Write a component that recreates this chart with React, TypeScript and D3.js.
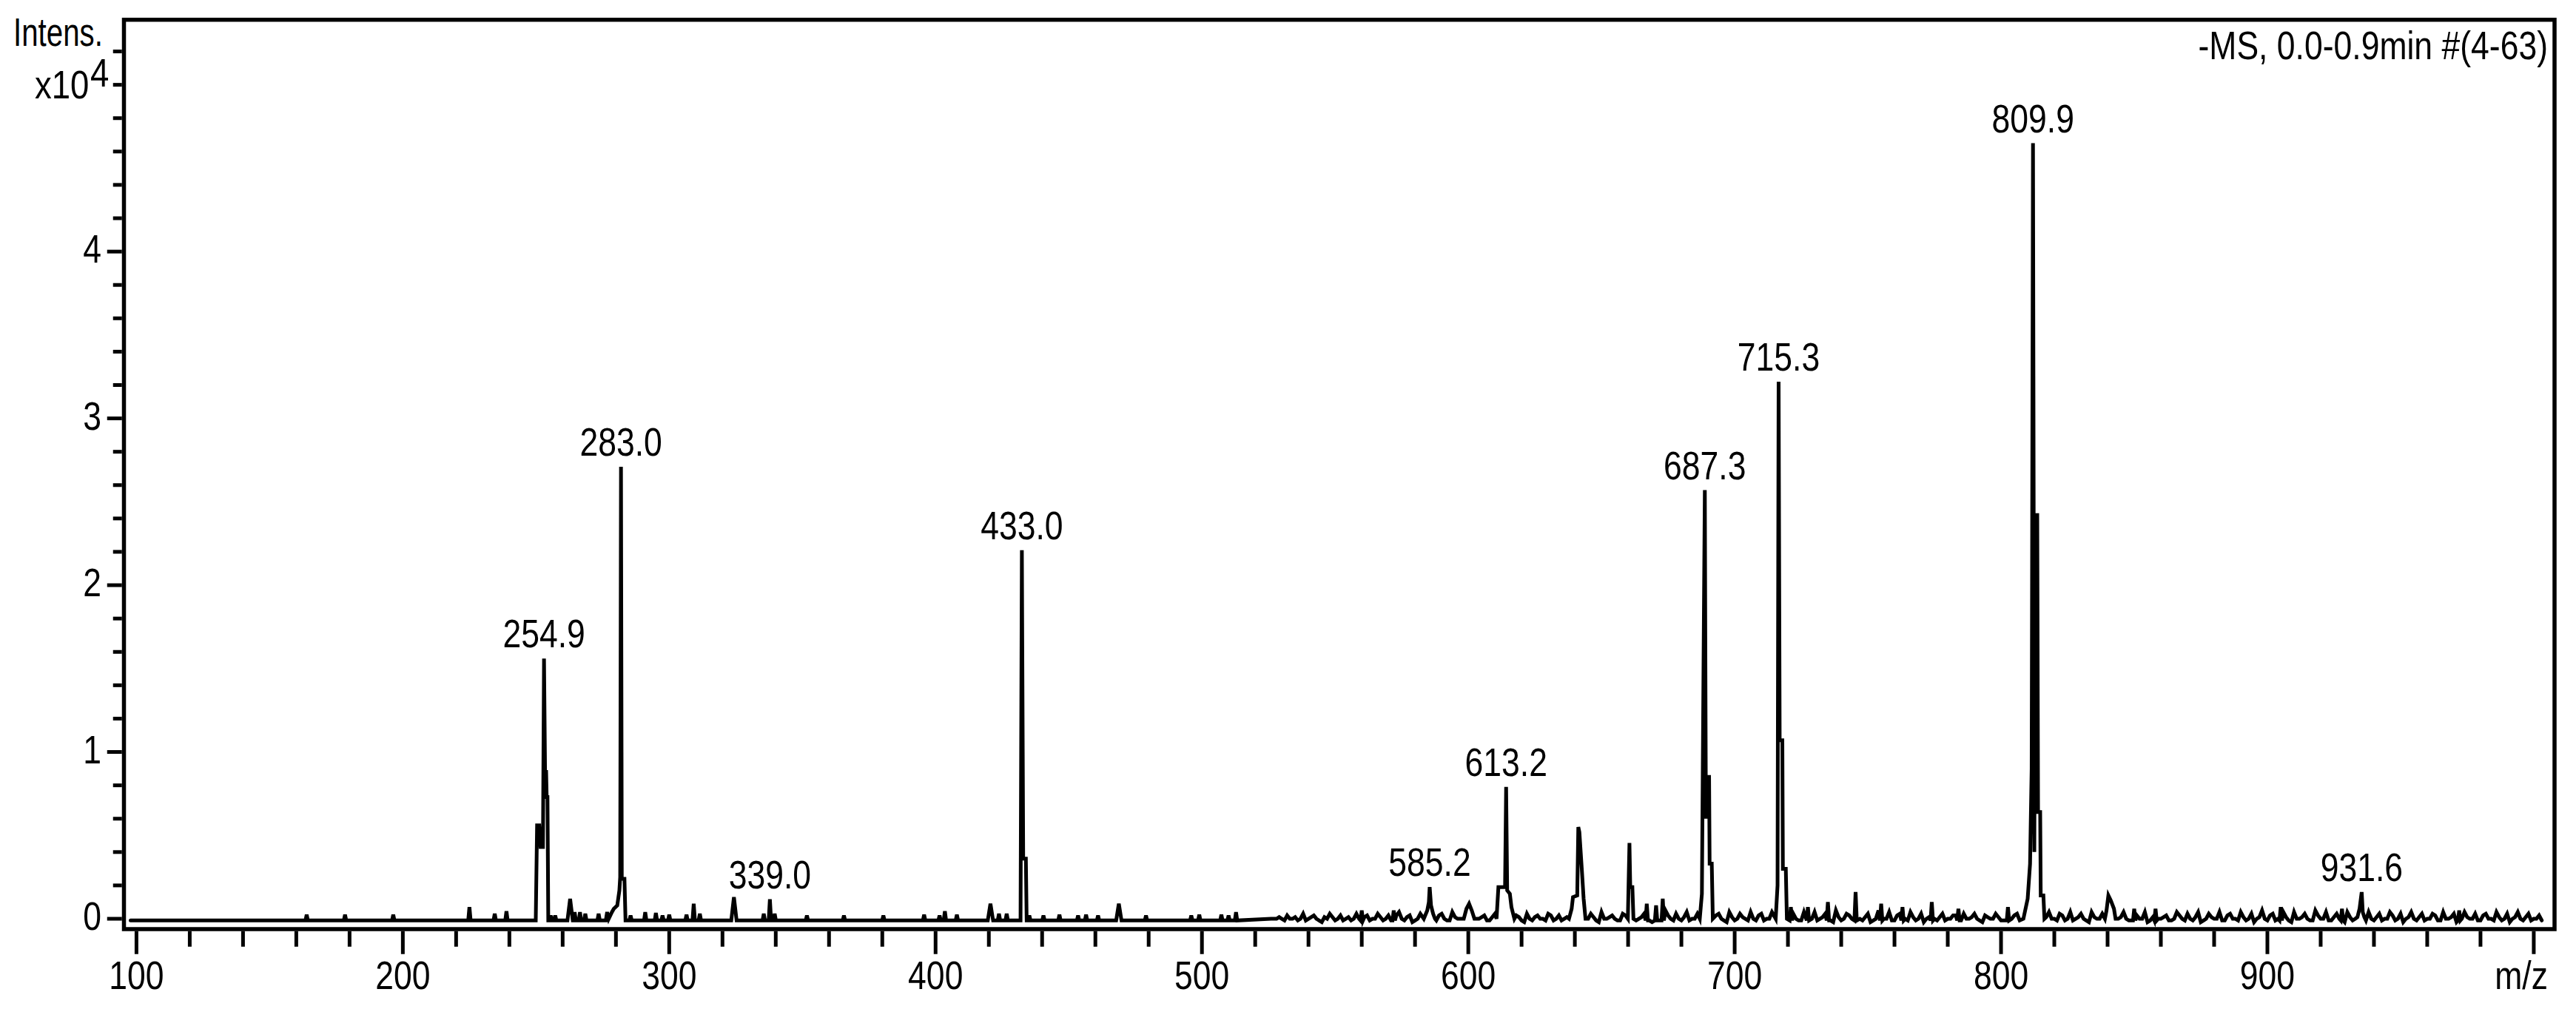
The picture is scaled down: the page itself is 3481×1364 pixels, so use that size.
import React from 'react';
import * as d3 from 'd3';

// Negative-mode ESI mass spectrum, -MS 0.0-0.9 min #(4-63)
// intensities are in units of 1e4 counts

const WIDTH = 3481;
const HEIGHT = 1364;
const FONT = "'Liberation Sans', Arial, Helvetica, sans-serif";

const headerText = '-MS, 0.0-0.9min #(4-63)';
const xMajorTicks = [100, 200, 300, 400, 500, 600, 700, 800, 900, 1000];
const xTickLabels = ['100', '200', '300', '400', '500', '600', '700', '800', '900', ''];
const yMajorTicks = [0, 1, 2, 3, 4];

// annotated peaks: label text, drawn position (m/z), apex intensity
const peakLabels = ['254.9', '283.0', '339.0', '433.0', '585.2', '613.2', '687.3', '715.3', '809.9', '931.6'];
const peakMz = [253.0, 281.9, 337.8, 432.4, 585.5, 614.2, 688.8, 716.5, 812.0, 935.4];
const peakInt = [1.56, 2.71, 0.117, 2.21, 0.19, 0.79, 2.57, 3.22, 4.65, 0.16];

// resolved clusters, [m/z, intensity] vertices
const cluster250: [number, number][] = [[249.9, -0.01], [250.4, 0.56], [251.2, 0.56], [251.7, 0.43], [252.6, 0.43], [253.0, 1.56], [253.4, 0.88], [253.8, 0.88], [254.0, 0.73], [254.3, 0.73], [254.6, -0.01]];
const cluster283: [number, number][] = [[276.2, -0.01], [276.7, 0.04], [277.3, 0.0], [278.5, 0.04], [279.2, 0.06], [280.5, 0.08], [281.3, 0.17], [281.6, 0.25], [281.9, 2.71], [282.2, 0.24], [283.2, 0.24], [283.6, -0.01]];
const cluster433: [number, number][] = [[431.9, -0.01], [432.4, 2.21], [432.9, 0.36], [433.9, 0.36], [434.2, -0.01]];
const cluster585: [number, number][] = [[583.3, 0.0], [584.6, 0.05], [585.2, 0.1], [585.5, 0.19], [586.0, 0.08], [586.8, 0.03], [587.5, 0.0]];
const cluster600: [number, number][] = [[598.3, 0.0], [599.3, 0.06], [600.3, 0.09], [601.3, 0.05], [602.3, 0.0]];
const cluster614: [number, number][] = [[610.6, 0.0], [611.3, 0.19], [613.8, 0.19], [614.2, 0.79], [614.6, 0.17], [615.6, 0.15], [616.2, 0.07], [617.3, 0.0]];
const cluster641: [number, number][] = [[637.8, 0.0], [638.8, 0.06], [639.3, 0.13], [640.9, 0.14], [641.3, 0.55], [641.7, 0.52], [642.6, 0.3], [643.3, 0.12], [644.0, 0.0]];
const cluster660: [number, number][] = [[659.9, 0.0], [660.5, 0.455], [660.8, 0.19], [661.6, 0.19], [662.0, 0.0]];
const cluster688: [number, number][] = [[686.9, 0.0], [687.7, 0.15], [688.3, 1.5], [688.8, 2.57], [689.2, 0.6], [689.5, 0.85], [690.4, 0.85], [690.6, 0.33], [691.4, 0.33], [691.8, 0.0]];
const cluster716: [number, number][] = [[715.4, 0.0], [716.1, 0.2], [716.5, 3.22], [716.9, 1.07], [717.9, 1.07], [718.1, 0.3], [719.2, 0.3], [719.6, 0.0]];
const cluster812: [number, number][] = [[808.4, 0.0], [810.0, 0.12], [810.9, 0.33], [811.5, 0.9], [812.0, 4.65], [812.5, 0.4], [812.9, 2.42], [813.6, 2.42], [813.9, 0.64], [814.7, 0.64], [814.9, 0.14], [815.9, 0.14], [816.3, 0.0]];
const cluster840: [number, number][] = [[839.0, 0.0], [839.6, 0.05], [840.3, 0.14], [841.2, 0.11], [842.4, 0.06], [843.0, 0.0]];
const cluster935: [number, number][] = [[933.8, 0.01], [934.6, 0.06], [935.4, 0.16], [935.8, 0.04], [936.4, 0.01]];

// narrow minor peaks
const spikeMz = [163.9, 178.3, 196.4, 225.0, 234.5, 238.9, 255.5, 257.2, 264.5, 266.5, 268.5, 273.5, 285.5, 291.0, 295.0, 297.5, 300.0, 306.5, 309.2, 311.5, 335.5, 337.8, 339.6, 351.7, 365.6, 380.4, 395.7, 401.5, 403.5, 408.0, 423.8, 426.7, 435.2, 440.5, 446.5, 453.5, 456.5, 461.0, 479.0, 496.0, 499.0, 507.3, 510.0, 512.8, 560.0, 572.0, 667.0, 670.5, 673.0, 721.1, 727.5, 735.0, 745.4, 755.0, 763.0, 774.0, 784.0, 802.6, 850.0, 858.0, 905.0, 928.0, 972.0];
const spikeInt = [0.025, 0.025, 0.025, 0.07, 0.03, 0.045, 0.02, 0.02, 0.04, 0.04, 0.03, 0.03, 0.02, 0.04, 0.035, 0.02, 0.025, 0.025, 0.09, 0.03, 0.03, 0.117, 0.03, 0.02, 0.02, 0.02, 0.025, 0.02, 0.045, 0.025, 0.03, 0.03, 0.02, 0.02, 0.025, 0.02, 0.025, 0.02, 0.02, 0.02, 0.025, 0.025, 0.02, 0.04, 0.05, 0.05, 0.09, 0.08, 0.12, 0.07, 0.07, 0.1, 0.16, 0.09, 0.07, 0.1, 0.06, 0.07, 0.06, 0.06, 0.07, 0.06, 0.05];
// broader minor peaks
const broadMz = [262.8, 324.3, 420.6, 468.8];
const broadInt = [0.12, 0.13, 0.09, 0.09];

// baseline noise, hundredths of 1e4; even m/z from 526 and odd m/z from 527
const noiseEvenStart = 526;
const noiseEven = [
  0, 0, 0, 2, 0, -1, 3, 0, 2, -1, 1, 3, -1, 2, 0, -1, 3, -1, 2, 0,
  3, -1, 2, 0, 4, -1, 2, -1, 3, 0, 2, -1, 3, -1, 4, 0, 2, -1, 3, 0,
  2, -1, 3, 0, 4, -1, 2, -1, 3, -1, 2, 0, 3, -1, 2, 0, 3, -1, 2, 0,
  3, -1, 4, 0, 2, -1, 3, -1, 4, 0, 3, -1, 4, -1, 5, 0, 3, -1, 4, 0,
  3, -1, 2, 0, 3, -1, 4, -1, 3, 0, 4, -1, 3, 0, 4, -1, 3, 0, 3, -1,
  4, -1, 4, 0, 3, -1, 5, -1, 3, 0, 4, -1, 3, -1, 5, 0, 4, -1, 3, 0,
  4, -1, 3, 0, 4, -1, 3, 0, 2, -1, 3, 0, 3, -1, 2, 0, 3, -1, 3, 0,
  3, -1, 2, 0, 3, -1, 4, 0, 3, -1, 4, 0, 3, -1, 4, 0, 3, -1, 5, 0,
  4, -1, 3, 0, 4, -1, 3, 0, 2, -1, 4, 0, 3, -1, 4, -1, 3, 0, 4, -1,
  3, 0, 4, -1, 3, 0, 5, -1, 3, 0, 4, -1, 4, 0, 3, -1, 5, 0, 4, -1,
  3, 0, 4, -1, 3, 0, 4, -1, 3, 0, 4, -1, 3, 0, 4, -1, 3, 0, 3, -1,
  4, 0, 3, -1, 4, 0, 3, -1, 3, 0, 4, -1, 3, 0, 4, -1, 3, 0, 2,
];
const noiseOddStart = 527;
const noiseOdd = [
  0, 1, -1, 0, 1, 0, -1, 1, 0, -2, 0, 1, 0, -1, 1, 0, 0, 1, -1, 0,
  1, 0, -1, 2, 0, 1, -2, 0, 1, -1, 0, 2, 0, -1, 1, 0, -2, 1, 0, 1,
  -1, 1, 0, 2, -1, 0, 1, -2, 0, 1, 0, -1, 2, 0, -1, 1, 0, -2, 1, 0,
  1, -2, 0, 1, 0, -1, 2, 0, -1, 1, 0, -2, 1, 0, 2, -1, 0, 1, -1, 0,
  1, 0, -1, 2, 0, -2, 1, 0, 1, -1, 0, 2, -1, 0, 1, -2, 0, 1, 0, -1,
  2, 0, -1, 1, 0, -2, 1, 0, 2, -1, 0, 1, -2, 0, 1, 0, -1, 2, 0, -1,
  1, 0, -2, 1, 0, 1, -1, 0, 2, -1, 0, 1, 0, -2, 1, 0, 1, -1, 0, 2,
  -1, 0, 1, -2, 0, 1, 0, -1, 2, 0, -1, 1, 0, -2, 1, 0, 2, -1, 0, 1,
  0, -1, 2, 0, -2, 1, 0, 1, -1, 0, 2, -1, 0, 1, -2, 0, 1, 0, -1, 2,
  0, -1, 1, 0, -2, 1, 0, 2, -1, 0, 1, -2, 0, 1, 0, -1, 2, 0, -1, 1,
  0, -2, 1, 0, 2, -1, 0, 1, -1, 0, 2, 0, -2, 1, 0, 1, -1, 0, 2, -1,
  0, 1, -2, 0, 1, 0, -1, 2, 0, -1, 1, 0, -2, 1, 0, 1, -1, 0,
];
const baseLevel = -0.01;
const scanStart = 97.8;
const scanEnd = 1003;

function buildSpectrum(): [number, number][] {
  const clusters = [cluster250, cluster283, cluster433, cluster585, cluster600, cluster614, cluster641,
    cluster660, cluster688, cluster716, cluster812, cluster840, cluster935];
  const pts: [number, number][] = [];
  const taken: [number, number][] = [];
  clusters.forEach(c => {
    c.forEach(p => pts.push(p));
    taken.push([c[0][0] - 0.4, c[c.length - 1][0] + 0.4]);
  });
  const addSpike = (m: number, h: number, hw: number) => {
    pts.push([m - hw, baseLevel], [m, h], [m + hw, baseLevel]);
    taken.push([m - hw - 0.4, m + hw + 0.4]);
  };
  spikeMz.forEach((m, i) => addSpike(m, spikeInt[i], 0.45));
  broadMz.forEach((m, i) => addSpike(m, broadInt[i], 1.0));
  const addNoise = (vals: number[], start: number) => vals.forEach((v, i) => {
    const m = start + i * 2;
    if (m > scanEnd) return;
    if (taken.some(([a, b]) => m >= a && m <= b)) return;
    pts.push([m, v / 100]);
  });
  addNoise(noiseEven, noiseEvenStart);
  addNoise(noiseOdd, noiseOddStart);
  pts.push([scanStart, baseLevel], [scanEnd, baseLevel]);
  return pts.sort((a, b) => a[0] - b[0]);
}

function Label({ x, y, text, anchor = 'middle', sx = 0.84 }:
  { x: number; y: number; text: string; anchor?: string; sx?: number }) {
  return (
    <text transform={`translate(${x},${y}) scale(${sx},1)`} textAnchor={anchor}
      fontFamily={FONT} fontSize={53} fill="#000">{text}</text>
  );
}

export default function App() {
  const left = 167.5, right = 3452, top = 26.7, bottom = 1256;
  const x = d3.scaleLinear().domain([95.3, 1007.8]).range([left, right]);
  const y = d3.scaleLinear().domain([-0.062, 5.39]).range([bottom, top]);

  const spectrum = buildSpectrum();
  const line = d3.line<[number, number]>().x(d => x(d[0])).y(d => y(d[1]));

  const xMinor = d3.range(100, 1001, 20).filter(v => v % 100 !== 0);
  const yMinor = d3.range(0, 5.21, 0.2).filter(v => Math.abs(v - Math.round(v)) > 1e-6 || v > 4.5);
  const frameW = 5.5;
  const tickW = 5;
  const axisY = bottom + frameW / 2;
  const axisX = left - frameW / 2;

  return (
    <svg width={WIDTH} height={HEIGHT} style={{ position: 'absolute', left: 0, top: 0, background: '#fff' }}>
      <rect x={0} y={0} width={WIDTH} height={HEIGHT} fill="#fff" />

      {/* spectrum */}
      <path d={line(spectrum) || ''} fill="none" stroke="#000" strokeWidth={5}
        strokeLinecap="round" strokeLinejoin="miter" />

      {/* frame */}
      <rect x={left} y={top} width={right - left} height={bottom - top}
        fill="none" stroke="#000" strokeWidth={frameW} />

      {/* x ticks */}
      {xMinor.map(v => (
        <line key={`xm${v}`} x1={x(v)} x2={x(v)} y1={axisY} y2={axisY + 21} stroke="#000" strokeWidth={tickW} />
      ))}
      {xMajorTicks.map((v, i) => (
        <g key={`xM${v}`}>
          <line x1={x(v)} x2={x(v)} y1={axisY} y2={axisY + 31} stroke="#000" strokeWidth={tickW} />
          {xTickLabels[i] && <Label x={x(v)} y={1337} text={xTickLabels[i]} />}
        </g>
      ))}
      <Label x={3443} y={1337} text="m/z" anchor="end" />

      {/* y ticks */}
      {yMinor.map(v => (
        <line key={`ym${v.toFixed(1)}`} x1={axisX} x2={axisX - 12} y1={y(v)} y2={y(v)} stroke="#000" strokeWidth={tickW} />
      ))}
      {yMajorTicks.map(v => (
        <g key={`yM${v}`}>
          <line x1={axisX} x2={axisX - 20} y1={y(v)} y2={y(v)} stroke="#000" strokeWidth={tickW} />
          <Label x={137} y={y(v) + 15} text={String(v)} anchor="end" />
        </g>
      ))}

      {/* axis titles */}
      <Label x={18} y={62} text="Intens." anchor="start" sx={0.76} />
      <Label x={47} y={133} text="x10" anchor="start" sx={0.86} />
      <Label x={122} y={117} text="4" anchor="start" sx={0.86} />
      <Label x={3443} y={80} text={headerText} anchor="end" />

      {/* peak annotations */}
      {peakLabels.map((t, i) => (
        <Label key={t} x={x(peakMz[i])} y={y(peakInt[i]) - 15} text={t} />
      ))}
    </svg>
  );
}
